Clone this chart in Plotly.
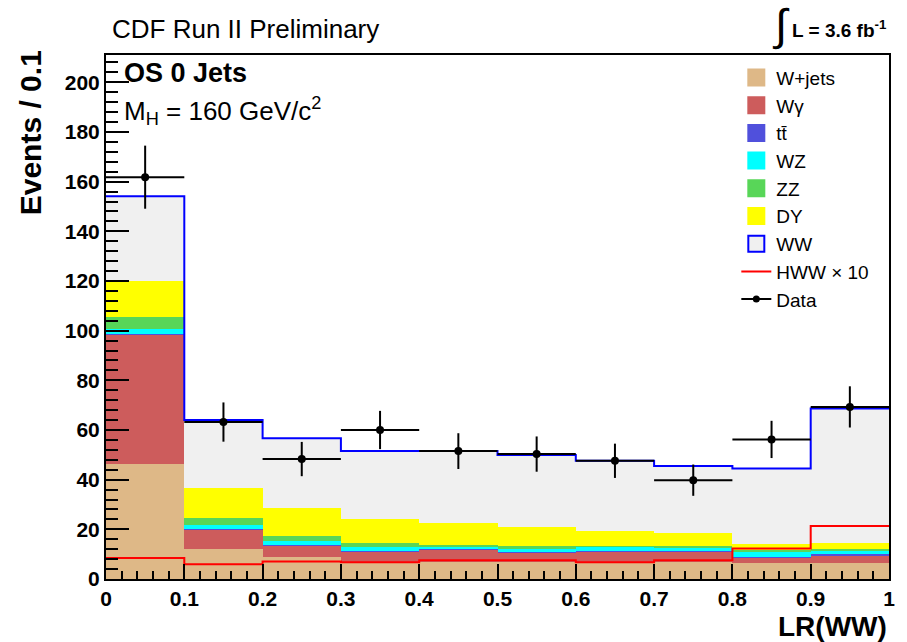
import numpy as np
import plotly.graph_objects as go

# Binning of the likelihood-ratio discriminant
bin_edges = [0.0, 0.1, 0.2, 0.3, 0.4, 0.5, 0.6, 0.7, 0.8, 0.9, 1.0]
x_tick_vals = [0.0, 0.1, 0.2, 0.3, 0.4, 0.5, 0.6, 0.7, 0.8, 0.9, 1.0]
x_tick_text = ["0", "0.1", "0.2", "0.3", "0.4", "0.5", "0.6", "0.7", "0.8", "0.9", "1"]

# Background expectations per bin (events / 0.1), stacked bottom to top
wjets  = [46.3, 12.1, 8.7, 7.0, 6.7, 6.7, 6.7, 6.7, 6.3, 6.3]
wgamma = [52.3, 7.9, 4.7, 4.0, 5.0, 3.9, 4.3, 4.3, 2.4, 3.0]
ttbar  = [0.2, 0.2, 0.2, 0.2, 0.2, 0.2, 0.2, 0.2, 0.2, 0.8]
wz     = [1.8, 1.4, 1.6, 1.8, 1.1, 1.3, 1.7, 1.5, 2.1, 1.3]
zz     = [4.8, 3.1, 2.2, 1.4, 0.7, 1.2, 0.4, 0.5, 0.8, 0.7]
dy     = [14.5, 12.0, 11.3, 9.6, 8.7, 7.5, 6.0, 5.2, 2.3, 2.3]
ww     = [34.2, 27.3, 28.0, 27.5, 29.1, 29.1, 28.3, 27.1, 30.4, 54.3]

# Higgs signal (x10) and observed data
hww_x10  = [8.5, 5.9, 7.0, 6.7, 7.6, 7.6, 6.7, 7.6, 12.3, 21.3]
data     = [161.8, 63.2, 48.3, 60.0, 51.5, 50.3, 47.6, 39.8, 56.2, 69.3]
data_err = [12.7, 7.9, 6.9, 7.7, 7.2, 7.1, 6.9, 6.3, 7.5, 8.3]

# Legend names and colours
names  = ["W+jets", "Wγ", "tt\u0304", "WZ", "ZZ", "DY", "WW"]
colors = ["#DEB887", "#CD5C5C", "#5050DC", "#00FFFF", "#58D658", "#FFFF00", "#F0F0F0"]
stack  = [wjets, wgamma, ttbar, wz, zz, dy, ww]

edges = np.array(bin_edges)
centers = 0.5 * (edges[:-1] + edges[1:])
widths = np.diff(edges)
total = np.sum(np.array(stack), axis=0)

FONT = "Liberation Sans, Arial, Helvetica, sans-serif"

fig = go.Figure()

for vals, name, col in zip(stack, names, colors):
    fig.add_trace(go.Bar(
        x=centers, y=vals, width=widths, name=name,
        marker=dict(color=col, line=dict(width=0)),
        showlegend=False, hoverinfo="skip",
    ))

# Top of the WW histogram (blue outline)
fig.add_trace(go.Scatter(
    x=edges, y=np.append(total, total[-1]), mode="lines",
    line=dict(color="#0000FF", width=2, shape="hv"),
    showlegend=False, hoverinfo="skip",
))

# Signal line
fig.add_trace(go.Scatter(
    x=edges, y=np.append(hww_x10, hww_x10[-1]), mode="lines",
    line=dict(color="#FF0000", width=2, shape="hv"),
    showlegend=False, hoverinfo="skip",
))

# Data points
fig.add_trace(go.Scatter(
    x=centers, y=data, mode="markers",
    marker=dict(color="black", size=8, symbol="circle"),
    error_y=dict(type="data", array=data_err, color="black", thickness=2, width=0),
    error_x=dict(type="data", array=widths / 2, color="black", thickness=2, width=0),
    showlegend=False, hoverinfo="skip",
))

# Legend entries
for name, col in zip(names, colors):
    edge = "#0000FF" if name == "WW" else col
    fig.add_trace(go.Scatter(
        x=[None], y=[None], mode="markers", name=name,
        marker=dict(symbol="square", size=16, color=col, line=dict(color=edge, width=2)),
    ))
fig.add_trace(go.Scatter(
    x=[None], y=[None], mode="lines", name="HWW × 10",
    line=dict(color="#FF0000", width=2),
))
fig.add_trace(go.Scatter(
    x=[None], y=[None], mode="lines+markers", name="Data",
    line=dict(color="black", width=2),
    marker=dict(color="black", size=7),
))

fig.update_layout(
    width=907, height=642,
    margin=dict(l=106, r=16, t=55, b=63),
    paper_bgcolor="white", plot_bgcolor="white",
    barmode="stack", bargap=0,
    font=dict(family=FONT, color="black"),
    showlegend=True,
    legend=dict(
        x=0.805, y=0.993, xanchor="left", yanchor="top",
        bgcolor="rgba(0,0,0,0)", borderwidth=0,
        font=dict(family=FONT, size=19, color="black"),
        traceorder="normal",
    ),
)

fig.update_xaxes(
    range=[0, 1], tickmode="array", tickvals=x_tick_vals, ticktext=x_tick_text,
    showline=True, linecolor="black", linewidth=2, mirror=True,
    ticks="inside", ticklen=15, tickwidth=1.5, tickcolor="black",
    minor=dict(ticks="inside", ticklen=8, dtick=0.02, tick0=0, tickwidth=1.5, tickcolor="black"),
    showgrid=False, zeroline=False,
    tickfont=dict(family=FONT, size=21, color="black", weight="bold"),
)
fig.update_yaxes(
    range=[0, 211], dtick=20, tick0=0,
    showline=True, linecolor="black", linewidth=2, mirror=True,
    ticks="inside", ticklen=23, tickwidth=1.5, tickcolor="black",
    minor=dict(ticks="inside", ticklen=12, dtick=4, tickwidth=1.5, tickcolor="black"),
    showgrid=False, zeroline=False,
    tickfont=dict(family=FONT, size=21, color="black", weight="bold"),
)

annotations = [
    dict(text="CDF Run II Preliminary", x=0.005, y=1.05, xanchor="left", yanchor="middle",
         font=dict(size=26)),
    dict(text="∫", x=0.862, y=1.058, xanchor="center", yanchor="middle",
         font=dict(size=44)),
    dict(text="<b>L = 3.6 fb<sup>-1</sup></b>", x=1.0, y=1.05, xanchor="right", yanchor="middle",
         font=dict(size=19)),
    dict(text="<b>OS 0 Jets</b>", x=0.02, y=0.966, xanchor="left", yanchor="middle",
         font=dict(size=27)),
    dict(text="M<sub>H</sub> = 160 GeV/c<sup>2</sup>", x=0.02, y=0.893, xanchor="left", yanchor="middle",
         font=dict(size=26)),
    dict(text="<b>Events / 0.1</b>", textangle=-90, x=-0.097, y=1.012, xanchor="center", yanchor="top",
         font=dict(size=30)),
    dict(text="<b>LR(WW)</b>", x=1.0, y=-0.09, xanchor="right", yanchor="middle",
         font=dict(size=28)),
]
for a in annotations:
    a.update(xref="paper", yref="paper", showarrow=False)
    a["font"].update(family=FONT, color="black")
fig.update_layout(annotations=annotations)

fig.write_html("out.html")
